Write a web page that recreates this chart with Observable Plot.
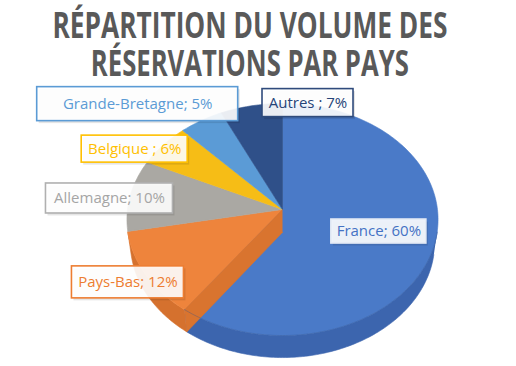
<!DOCTYPE html>
<html><head><meta charset="utf-8">
<script src="https://cdn.jsdelivr.net/npm/d3@7"></script>
<script src="https://cdn.jsdelivr.net/npm/@observablehq/plot@0.6"></script>
<style>
html,body{margin:0;padding:0;background:#fff;}
#wrap{position:relative;width:516px;height:366px;overflow:hidden;}
#wrap svg{position:absolute;left:0;top:0;}
.tl{position:absolute;left:-250px;width:1000px;text-align:center;font-family:"Open Sans",sans-serif;font-weight:700;font-size:35px;line-height:36px;height:36px;color:#595959;white-space:nowrap;}
.tl span{display:inline-block;transform-origin:50% 50%;}
</style></head>
<body><div id="wrap">
<div class="tl" id="t1" style="top:7px"><span>RÉPARTITION DU VOLUME DES</span></div>
<div class="tl" id="t2" style="top:45px"><span>RÉSERVATIONS PAR PAYS</span></div>
</div>
<script>
// ---- data ----
const countries = ["France", "Pays-Bas", "Allemagne", "Belgique", "Grande-Bretagne", "Autres"];
const shares = [60, 12, 10, 6, 5, 7];
const labelTexts = ["France; 60%", "Pays-Bas; 12%", "Allemagne; 10%", "Belgique ; 6%", "Grande-Bretagne; 5%", "Autres ; 7%"];

// ---- styles ----
const topColors = ["#4a7ac8", "#ee843c", "#aaa8a3", "#f6bd16", "#5b9bd6", "#2f5089"];
const wallColors = ["#3c65ae", "#d5712e", "#959595", "#dba800", "#4a86bf", "#243f6c"];
const innerWallColor = "#d9742f";
const textColors = ["#4472c4", "#ed7d31", "#a5a5a5", "#ffc000", "#5b9bd5", "#264478"];
const borderColors = ["#e4eaf5", "#ed7d31", "#b0b0b0", "#ffc000", "#5b9bd5", "#2f4b7c"];

// ---- layout ----
const labelR = [0.64, 1.12, 1.13, 1.14, 1.42, 1.02];
const labelTurn = [-0.9, 0, -2.3, -7.2, -11.4, 22.7];
const boxW = [95, 112, 127, 106, 201, 91];
const boxH = [24, 32, 30, 27, 34, 28];
const cam = {f: 1201, D: 7.75, s: 0.743, c: 0.669};
const thick = 0.225;

function proj(X, Y, Z) {
  const depth = cam.D - Y * cam.s - Z * cam.c;
  const yc = Y * cam.c - Z * cam.s;
  return [cam.f * X / depth, -cam.f * yc / depth];
}
const rad = d => d * Math.PI / 180;
function pt(phi, r, Y) { return proj(r * Math.sin(rad(phi)), Y, -r * Math.cos(rad(phi))); }
function arc(a, b, r, Y) {
  const n = Math.max(2, Math.ceil(Math.abs(b - a) / 1));
  return d3.range(n + 1).map(i => pt(a + (b - a) * i / n, r, Y));
}

const total = d3.sum(shares);
let acc = 0;
const slices = shares.map((v, i) => {
  const a = acc / total * 360; acc += v; const b = acc / total * 360;
  return {i, a, b, mid: (a + b) / 2};
});

// visible range of outer wall
const lim = Math.acos(-1 / (cam.D * cam.c)) * 180 / Math.PI;
const visA = lim, visB = 360 - lim;

const marks = [];
const poly = (pts, fill, stroke) => Plot.line(pts, {x: d => d[0], y: d => d[1], fill, stroke: stroke || fill, strokeWidth: 0.6, curve: "linear"});

// outer walls
slices.forEach(s => {
  const a = Math.max(s.a, visA), b = Math.min(s.b, visB);
  if (b > a) {
    const pts = [...arc(a, b, 1, 0), ...arc(b, a, 1, -thick)];
    marks.push(poly(pts, wallColors[s.i]));
  }
});
// top faces
slices.forEach(s => {
  const pts = [proj(0, 0, 0), ...arc(s.a, s.b, 1, 0), proj(0, 0, 0)];
  marks.push(poly(pts, topColors[s.i], topColors[s.i]));
});
// radial wall of Pays-Bas facing France
{
  const phi = slices[1].a;
  const pts = [proj(0, 0, 0), pt(phi, 1, 0), pt(phi, 1, -thick), proj(0, -thick, 0)];
  marks.push(poly(pts, innerWallColor));
}
// France front rim line
marks.push(Plot.line(arc(visA, slices[0].b, 1, 0), {x: d => d[0], y: d => d[1], stroke: "#2f528f", strokeWidth: 0.6, strokeOpacity: 0.6}));

// labels
slices.forEach(s => {
  const phi = s.mid + labelTurn[s.i];
  const [x, y] = pt(phi, labelR[s.i], 0);
  const w = boxW[s.i], h = boxH[s.i];
  const d = [{x, y, t: labelTexts[s.i]}];
  marks.push(Plot.rect(d, {x1: d => d.x - w / 2 + 2, x2: d => d.x + w / 2 + 2, y1: d => d.y - h / 2 + 2.5, y2: d => d.y + h / 2 + 2.5, fill: "#000", fillOpacity: 0.1}));
  marks.push(Plot.rect(d, {x1: d => d.x - w / 2, x2: d => d.x + w / 2, y1: d => d.y - h / 2, y2: d => d.y + h / 2, fill: "#fff", fillOpacity: 0.9, stroke: borderColors[s.i], strokeWidth: 1.6}));
  marks.push(Plot.text(d, {x: "x", y: "y", text: "t", fill: textColors[s.i], fontSize: 15, fontFamily: "Open Sans, sans-serif"}));
});

const chart = Plot.plot({
  width: 516, height: 366, margin: 0,
  x: {domain: [-282, 234], range: [0, 516], axis: null},
  y: {domain: [-209, 157], range: [0, 366], axis: null},
  style: {background: "transparent", overflow: "visible"},
  marks
});
document.getElementById("wrap").prepend(chart);

[["t1", 395], ["t2", 318]].forEach(([id, w]) => {
  const sp = document.querySelector("#" + id + " span");
  const cw = sp.getBoundingClientRect().width;
  sp.style.transform = `scaleX(${w / cw})`;
});
</script>
</body></html>
